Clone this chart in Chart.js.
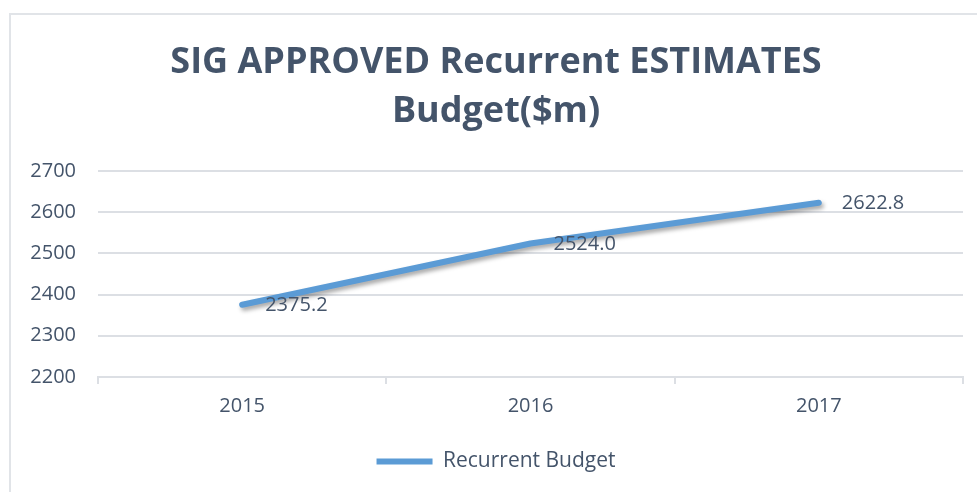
<!DOCTYPE html>
<html>
<head>
<meta charset="utf-8">
<script src="https://cdn.jsdelivr.net/npm/chart.js@4/dist/chart.umd.min.js"></script>
<style>
  html, body { margin: 0; padding: 0; background: #fff; }
  #wrap { width: 977px; height: 492px; }
</style>
</head>
<body>
<div id="wrap"><canvas id="budgetChart" width="977" height="492"></canvas></div>
<script>
// data
const years = ['2015', '2016', '2017'];
const recurrentBudget = [2375.2, 2524.0, 2622.8];
const seriesName = 'Recurrent Budget';
const titleLines = ['SIG APPROVED Recurrent ESTIMATES', 'Budget($m)'];

const TEXT = '#44546A';
const GRID = '#DCDFE4';
const LINE = '#5B9BD5';

// outer frame of the chart box (cropped on right and bottom)
const framePlugin = {
    id: 'frame',
    beforeDraw(chart) {
        const ctx = chart.ctx;
        ctx.save();
        ctx.strokeStyle = '#E1E4E8';
        ctx.lineWidth = 2;
        ctx.strokeRect(10, 14, 1200, 1200);
        ctx.restore();
    }
};

// soft drop shadow under the line
const shadowPlugin = {
    id: 'lineShadow',
    beforeDatasetDraw(chart) {
        const ctx = chart.ctx;
        ctx.save();
        ctx.shadowColor = 'rgba(0,0,0,0.35)';
        ctx.shadowBlur = 4;
        ctx.shadowOffsetX = 2;
        ctx.shadowOffsetY = 3;
    },
    afterDatasetDraw(chart) {
        chart.ctx.restore();
    }
};

// value labels to the right of each point
const valueLabels = {
    id: 'valueLabels',
    afterDatasetsDraw(chart) {
        const ctx = chart.ctx;
        const meta = chart.getDatasetMeta(0);
        ctx.save();
        ctx.font = '20px "Open Sans"';
        ctx.fillStyle = TEXT;
        ctx.textAlign = 'left';
        ctx.textBaseline = 'middle';
        meta.data.forEach((pt, i) => {
            ctx.fillText(recurrentBudget[i].toFixed(1), pt.x + 23, pt.y + 1);
        });
        ctx.restore();
    }
};

new Chart(document.getElementById('budgetChart'), {
    type: 'line',
    data: {
        labels: years,
        datasets: [{
            label: seriesName,
            data: recurrentBudget,
            borderColor: LINE,
            backgroundColor: LINE,
            borderWidth: 6,
            borderCapStyle: 'round',
            borderJoinStyle: 'round',
            pointRadius: 0,
            pointHoverRadius: 0,
            pointStyle: 'line',
            tension: 0,
            fill: false
        }]
    },
    options: {
        responsive: false,
        animation: false,
        layout: { padding: { left: 29, right: 14, top: 20, bottom: 10 } },
        scales: {
            x: {
                offset: true,
                grid: {
                    offset: true,
                    drawOnChartArea: false,
                    drawTicks: true,
                    tickLength: 7,
                    color: GRID,
                    lineWidth: 2
                },
                border: { display: true, color: GRID, width: 2 },
                ticks: {
                    color: TEXT,
                    font: { family: 'Open Sans', size: 20 },
                    padding: 10
                },
                afterFit(scale) { scale.height = 64; }
            },
            y: {
                min: 2200,
                max: 2700,
                ticks: {
                    stepSize: 100,
                    color: TEXT,
                    font: { family: 'Open Sans', size: 20 },
                    padding: 22,
                    callback: v => String(v)
                },
                grid: { color: GRID, lineWidth: 2, drawTicks: false },
                border: { display: false },
                afterFit(scale) { scale.width = 69; }
            }
        },
        plugins: {
            title: {
                display: true,
                text: titleLines,
                color: TEXT,
                font: { family: 'Open Sans', size: 36, weight: 'bold', lineHeight: 1.36 },
                padding: { top: 18, bottom: 35 }
            },
            legend: {
                position: 'bottom',
                labels: {
                    usePointStyle: true,
                    pointStyleWidth: 56,
                    color: TEXT,
                    font: { family: 'Open Sans', size: 21 },
                    padding: 10
                }
            },
            tooltip: { enabled: false }
        }
    },
    plugins: [framePlugin, shadowPlugin, valueLabels]
});
</script>
</body>
</html>
